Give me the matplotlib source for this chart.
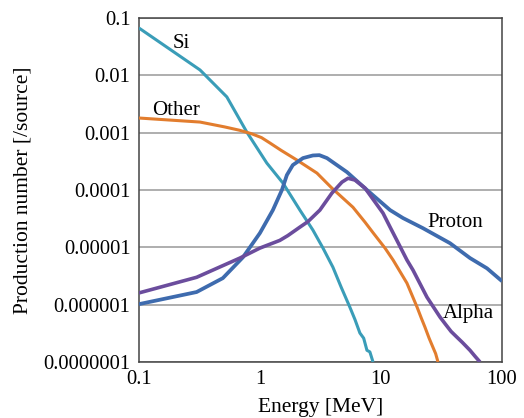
import matplotlib
matplotlib.use("Agg")
import matplotlib.pyplot as plt

plt.rcParams['font.family'] = ['Liberation Serif', 'DejaVu Serif']

si_x = [0.1, 0.32, 0.533, 0.78, 1.14, 1.55, 2.14, 2.74, 3.32, 4.01, 4.7, 5.54, 6.1, 6.7, 7.2, 7.66, 8.1, 8.6]
si_y = [0.067, 0.0124, 4.2e-3, 1.02e-3, 2.95e-4, 1.32e-4, 4.46e-5, 2.0e-5, 9.7e-6, 4.5e-6, 2.0e-6, 9.0e-7, 5.5e-7, 3.2e-7, 2.6e-7, 1.6e-7, 1.5e-7, 1.0e-7]

other_x = [0.1, 0.32, 0.51, 0.68, 0.85, 1.03, 1.21, 1.5, 2.02, 2.96, 3.93, 5.87, 7.38, 8.6, 10.8, 12.6, 16.4, 19.9, 21.5, 23.1, 25.0, 26.9, 28.3, 29.6]
other_y = [0.0018, 0.00153, 0.00126, 0.0011, 9.6e-4, 8.2e-4, 6.6e-4, 4.9e-4, 3.33e-4, 1.97e-4, 1.08e-4, 5.0e-5, 2.75e-5, 1.8e-5, 9.7e-6, 6.0e-6, 2.37e-6, 9.0e-7, 5.9e-7, 4.05e-7, 2.6e-7, 1.8e-7, 1.4e-7, 1.0e-7]

proton_x = [0.1, 0.30, 0.494, 0.724, 1.0, 1.28, 1.52, 1.67, 1.87, 2.27, 2.74, 3.1, 3.58, 5.24, 7.66, 11.9, 15.2, 22.2, 37.2, 54.4, 75.2, 100.0]
proton_y = [1.02e-6, 1.66e-6, 2.9e-6, 6.7e-6, 1.77e-5, 4.46e-5, 1.0e-4, 1.82e-4, 2.72e-4, 3.6e-4, 4.0e-4, 4.05e-4, 3.6e-4, 2.05e-4, 1.0e-4, 4.46e-5, 3.24e-5, 2.16e-5, 1.18e-5, 6.5e-6, 4.3e-6, 2.57e-6]

alpha_x = [0.1, 0.30, 0.684, 1.0, 1.46, 1.70, 2.14, 2.49, 3.13, 3.93, 4.76, 5.34, 6.1, 7.38, 10.4, 11.9, 13.5, 16.4, 18.4, 24.0, 30.8, 34.0, 38.0, 42.5, 47.0, 54.4, 60.0, 65.8]
alpha_y = [1.6e-6, 3.0e-6, 6.5e-6, 9.7e-6, 1.32e-5, 1.6e-5, 2.25e-5, 2.8e-5, 4.46e-5, 8.8e-5, 1.37e-4, 1.6e-4, 1.49e-4, 1.08e-4, 3.95e-5, 2.25e-5, 1.34e-5, 6.0e-6, 4.0e-6, 1.35e-6, 6.05e-7, 4.6e-7, 3.4e-7, 2.7e-7, 2.2e-7, 1.6e-7, 1.25e-7, 1.0e-7]

y_ticks = [1e-7, 1e-6, 1e-5, 1e-4, 1e-3, 1e-2, 1e-1]
y_labels = ['0.0000001', '0.000001', '0.00001', '0.0001', '0.001', '0.01', '0.1']
x_ticks = [0.1, 1, 10, 100]
x_labels = ['0.1', '1', '10', '100']

fig = plt.figure(figsize=(5.24, 4.18), dpi=100)
ax = fig.add_axes([0.265, 0.134, 0.693, 0.823])

lw = 2.2
kw = dict(solid_joinstyle='round', solid_capstyle='butt', zorder=3)
ax.plot(si_x, si_y, color='#3a9db8', lw=lw, **kw)
ax.plot(other_x, other_y, color='#e27d2e', lw=lw, **kw)
ax.plot(proton_x, proton_y, color='#3e6bae', lw=lw + 0.5, **kw)
ax.plot(alpha_x, alpha_y, color='#6b4d9d', lw=lw + 0.4, **kw)

ax.set_xscale('log')
ax.set_yscale('log')
ax.set_xlim(0.1, 100)
ax.set_ylim(1e-7, 0.1)
ax.set_yticks(y_ticks)
ax.set_yticklabels(y_labels)
ax.set_xticks(x_ticks)
ax.set_xticklabels(x_labels)
ax.minorticks_off()
ax.tick_params(length=0, labelsize=14.8, pad=6)
ax.grid(axis='y', color='#a8a8a8', lw=1.3, zorder=1)
for s in ax.spines.values():
    s.set_color('#444444')
    s.set_linewidth(1.1)

ax.set_xlabel('Energy [MeV]', fontsize=15.5, labelpad=6)
ax.set_ylabel('Production number [/source]', fontsize=15.5, labelpad=8)

ax.text(0.222, 0.0366, 'Si', fontsize=15, ha='center', va='center', zorder=5)
ax.text(0.202, 2.48e-3, 'Other', fontsize=15, ha='center', va='center', zorder=5)
ax.text(40.9, 2.75e-5, 'Proton', fontsize=15, ha='center', va='center', zorder=5)
ax.text(52.4, 7.1e-7, 'Alpha', fontsize=15, ha='center', va='center', zorder=5)

fig.savefig('out.png', dpi=100)
